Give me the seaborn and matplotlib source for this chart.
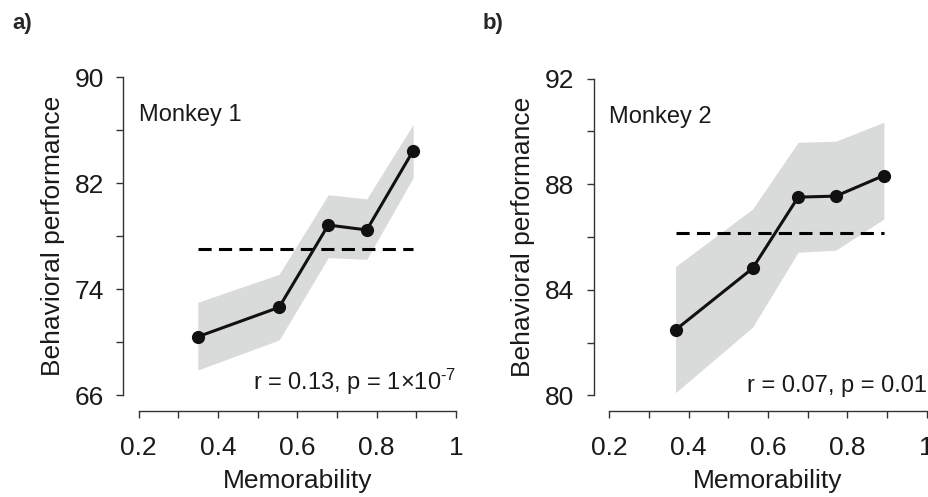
import matplotlib
matplotlib.use("Agg")
import matplotlib.pyplot as plt
import seaborn as sns
import pandas as pd

# ---- data ----
mem_1 = [0.349, 0.554, 0.678, 0.775, 0.892]
perf_1 = [70.42, 72.64, 78.85, 78.48, 84.46]
upper_1 = [73.02, 75.13, 81.14, 80.82, 86.45]
lower_1 = [67.91, 70.17, 76.39, 76.26, 82.42]
chance_1 = 77.02

mem_2 = [0.367, 0.561, 0.676, 0.771, 0.892]
perf_2 = [82.48, 84.81, 87.51, 87.55, 88.33]
upper_2 = [84.88, 87.06, 89.59, 89.63, 90.35]
lower_2 = [80.10, 82.58, 85.42, 85.50, 86.68]
chance_2 = 86.16

titles = ["Monkey 1", "Monkey 2"]
stats = [r"r = 0.13, p = 1×10$^{\mathregular{\text{-}7}}$", "r = 0.07, p = 0.01"]
panel_labels = ["a)", "b)"]
xticks = [0.2, 0.4, 0.6, 0.8, 1.0]
xticklabels = ["0.2", "0.4", "0.6", "0.8", "1"]
yticks_1 = [66, 74, 82, 90]
yticks_2 = [80, 84, 88, 92]
yminor_1 = [70, 78, 86]
yminor_2 = [82, 86, 90]

sns.set_style("ticks")
plt.rcParams["font.family"] = ["Liberation Sans", "DejaVu Sans"]
plt.rcParams["mathtext.fontset"] = "custom"
plt.rcParams["mathtext.rm"] = "Liberation Sans"
plt.rcParams["mathtext.it"] = "Liberation Sans:italic"

W, H = 929, 497
fig = plt.figure(figsize=(W / 100, H / 100), dpi=100)

def px_axes(left, right, top, bottom):
    return fig.add_axes([left / W, 1 - bottom / H, (right - left) / W, (bottom - top) / H])

ax1 = px_axes(138.7, 456.0, 77.3, 395.3)
ax2 = px_axes(609.3, 926.7, 78.7, 395.3)

band_color = "#d9dada"
txt_color = "#1a1a1a"
configs = [
    (ax1, mem_1, perf_1, upper_1, lower_1, chance_1, yticks_1, yminor_1, (66, 90)),
    (ax2, mem_2, perf_2, upper_2, lower_2, chance_2, yticks_2, yminor_2, (80, 92)),
]

for i, (ax, m, p, up, lo, ch, yt, ymin, ylim) in enumerate(configs):
    ax.fill_between(m, lo, up, color=band_color, linewidth=0, zorder=1)
    ax.hlines(ch, m[0], m[-1], colors="black", linestyles=(0, (4.3, 2.4)), linewidth=2.2, zorder=2)
    df = pd.DataFrame({"mem": m, "perf": p})
    sns.lineplot(data=df, x="mem", y="perf", ax=ax, color="#111111", linewidth=2.2,
                 marker="o", markersize=9.5, markeredgewidth=0, zorder=3)
    ax.set_xlim(0.2, 1.0)
    ax.set_ylim(*ylim)
    ax.set_xticks(xticks)
    ax.set_xticklabels(xticklabels)
    ax.set_xticks([0.3, 0.5, 0.7, 0.9], minor=True)
    ax.set_yticks(yt)
    ax.set_yticks(ymin, minor=True)
    ax.tick_params(axis="both", which="both", length=5, width=1.0, color="#333333",
                   labelsize=19, labelcolor=txt_color)
    ax.tick_params(axis="x", which="both", pad=13)
    ax.tick_params(axis="y", which="both", pad=9)
    sns.despine(ax=ax, offset=11)
    for s in ["left", "bottom"]:
        ax.spines[s].set_linewidth(1.0)
        ax.spines[s].set_color("#333333")
    ax.set_xlabel("Memorability", fontsize=19, color=txt_color, labelpad=7)
    ax.set_ylabel("Behavioral performance", fontsize=19, color=txt_color, labelpad=7)
    ax.text(0.0, 0.88, titles[i], transform=ax.transAxes, fontsize=17, color=txt_color,
            ha="left", va="center")
    ax.text(1.0, -0.005, stats[i], transform=ax.transAxes, fontsize=17, color=txt_color,
            ha="right", va="bottom")
    ax.patch.set_alpha(0)

fig.text(12 / W, 1 - 23 / H, panel_labels[0], fontsize=16, fontweight="bold", ha="left", va="center")
fig.text(483 / W, 1 - 23 / H, panel_labels[1], fontsize=16, fontweight="bold", ha="left", va="center")

fig.savefig("out.png", dpi=100)
